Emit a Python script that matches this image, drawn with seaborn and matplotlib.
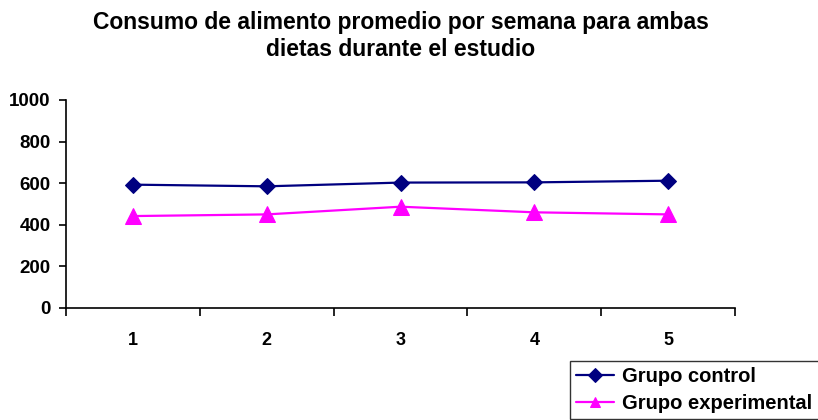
import matplotlib
matplotlib.use("Agg")
import matplotlib.pyplot as plt
import seaborn as sns
import pandas as pd
from matplotlib.ticker import FixedLocator

semanas = [1, 2, 3, 4, 5]
grupo_control = [593, 585, 603, 604, 612]
grupo_experimental = [442, 450, 487, 460, 450]
series = ["Grupo control", "Grupo experimental"]
y_ticks = [0, 200, 400, 600, 800, 1000]

sns.set_theme(style="white")
plt.rcParams["font.family"] = ["Liberation Sans", "DejaVu Sans"]
plt.rcParams["text.color"] = "black"
plt.rcParams["xtick.color"] = "black"
plt.rcParams["ytick.color"] = "black"

df = pd.DataFrame({
    "pos": list(range(len(semanas))) * 2,
    "consumo": grupo_control + grupo_experimental,
    "grupo": [series[0]] * len(semanas) + [series[1]] * len(semanas),
})

fig = plt.figure(figsize=(8.18, 4.2), dpi=100)
ax = fig.add_axes([66 / 818, 1 - 308 / 420, (735 - 66) / 818, 208 / 420])

palette = {series[0]: "#000080", series[1]: "#FF00FF"}
markers = {series[0]: "D", series[1]: "^"}
sizes = {series[0]: 8, series[1]: 11}
for name in series:
    sub = df[df["grupo"] == name]
    sns.lineplot(data=sub, x="pos", y="consumo", ax=ax, color=palette[name],
                 marker=markers[name], markersize=sizes[name],
                 markeredgecolor=palette[name], linewidth=1.6, label=name)

ax.set_xlim(-0.5, len(semanas) - 0.5)
ax.set_ylim(0, 1000)
ax.set_xlabel("")
ax.set_ylabel("")

ax.set_xticks(range(len(semanas)))
ax.set_xticklabels([str(s) for s in semanas], fontsize=13, fontweight="bold")
ax.xaxis.set_minor_locator(FixedLocator([i - 0.5 for i in range(len(semanas) + 1)]))
ax.tick_params(axis="x", which="major", length=0, pad=17)
ax.tick_params(axis="x", which="minor", length=6, width=1.2, color="black",
               direction="out", bottom=True)
ax.set_yticks(y_ticks)
ax.set_yticklabels([str(v) for v in y_ticks], fontsize=13.5, fontweight="bold")
ax.tick_params(axis="y", length=5, width=1.2, color="black", direction="out", left=True, pad=6)

for side in ["top", "right"]:
    ax.spines[side].set_visible(False)
for side in ["left", "bottom"]:
    ax.spines[side].set_color("black")
    ax.spines[side].set_linewidth(1.2)

fig.suptitle("Consumo de alimento promedio por semana para ambas\ndietas durante el estudio",
             x=0.49, y=0.975, fontsize=16.5, fontweight="bold", linespacing=1.25,
             color="black")

leg = ax.legend(loc="lower left", bbox_to_anchor=(570 / 818, 1 / 420),
                bbox_transform=fig.transFigure, frameon=True, fancybox=False,
                prop={"weight": "bold", "size": 14.5}, handlelength=1.9,
                borderpad=0.3, labelspacing=0.4, handletextpad=0.4,
                borderaxespad=0)
leg.get_frame().set_edgecolor("black")
leg.get_frame().set_linewidth(1.0)
for h in leg.legend_handles:
    h.set_markersize(7)
for t in leg.get_texts():
    t.set_color("black")

fig.savefig("out.png", dpi=100)
